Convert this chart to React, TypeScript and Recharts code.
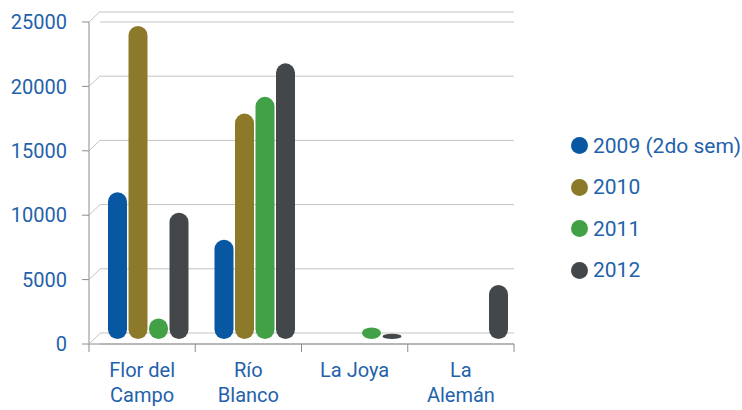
import { Bar, BarChart, CartesianGrid, Legend, XAxis, YAxis } from "recharts";

const categories = ["Flor del Campo", "Río Blanco", "La Joya", "La Alemán"];
const categoryLines = [["Flor del", "Campo"], ["Río", "Blanco"], ["La Joya"], ["La", "Alemán"]];

const values2009 = [11400, 7700, 0, 0];
const values2010 = [24300, 17500, 0, 0];
const values2011 = [1600, 18800, 900, 0];
const values2012 = [9800, 21400, 400, 4200];

const seriesKeys = ["y2009", "y2010", "y2011", "y2012"];
const seriesNames = ["2009 (2do sem)", "2010", "2011", "2012"];
const seriesColors = ["#0757a3", "#8c7a2a", "#42a047", "#43474a"];

const yTicks = [0, 5000, 10000, 15000, 20000, 25000];

const TEXT = "#1f62ab";
const AXIS = "#8c8c8c";
const GRID = "#c4c4c4";
const FONT = "Roboto, sans-serif";

const CHART_W = 742;
const CHART_H = 410;
const MARGIN = { top: 22, right: 228, bottom: 0, left: 0 };
const Y_AXIS_W = 89;
const PLOT_W = CHART_W - MARGIN.left - MARGIN.right - Y_AXIS_W;
const BAND = PLOT_W / categories.length;

const data = categories.map((name, i) => ({
  name,
  y2009: values2009[i],
  y2010: values2010[i],
  y2011: values2011[i],
  y2012: values2012[i],
}));

function Pill(props: any) {
  const { x, y, width, height, fill } = props;
  if (!height || height <= 0) return null;
  const r = width / 2;
  return <rect x={x} y={y} width={width} height={height} rx={r} ry={Math.min(r, height / 2)} fill={fill} />;
}

function FrontTick({ x, y, payload }: any) {
  return (
    <g>
      <text x={x} y={y} dy="0.36em" textAnchor="end" fill={TEXT} fontSize={20} fontFamily={FONT}>
        {payload.value}
      </text>
      <line x1={x + 22} y1={y} x2={x + 33} y2={y - 10.5} stroke={GRID} />
    </g>
  );
}

function CategoryTick({ x, y, payload, index }: any) {
  const i = categories.indexOf(payload.value);
  const lines = categoryLines[i] || [payload.value];
  const left = x - BAND / 2;
  const right = x + BAND / 2;
  return (
    <g>
      <line x1={left} y1={y} x2={left} y2={y + 8} stroke={AXIS} />
      {i === categories.length - 1 && <line x1={right} y1={y} x2={right} y2={y + 8} stroke={AXIS} />}
      <text x={x} y={y} textAnchor="middle" fill={TEXT} fontSize={20} fontFamily={FONT}>
        {lines.map((line, k) => (
          <tspan key={k} x={x} y={y + 33 + k * 25}>
            {line}
          </tspan>
        ))}
      </text>
    </g>
  );
}

function LegendList({ payload }: any) {
  return (
    <div style={{ fontFamily: FONT }}>
      {(payload || []).map((item: any) => (
        <div key={item.value} style={{ height: 41.5, display: "flex", alignItems: "center" }}>
          <span
            style={{ width: 17, height: 17, borderRadius: "50%", background: item.color, marginRight: 5, flex: "none" }}
          />
          <span style={{ color: TEXT, fontSize: 21, whiteSpace: "nowrap" }}>{item.value}</span>
        </div>
      ))}
    </div>
  );
}

export default function App() {
  return (
    <div style={{ position: "absolute", left: 0, top: 0, background: "#fff" }}>
      <BarChart width={CHART_W} height={CHART_H} data={data} margin={MARGIN} barSize={19} barGap={1.5}>
        <XAxis xAxisId="bars" dataKey="name" hide height={0} padding={{ left: 6, right: -7 }} />
        <XAxis
          xAxisId="labels"
          dataKey="name"
          height={66}
          stroke={AXIS}
          tickLine={false}
          tickSize={0}
          tickMargin={0}
          interval={0}
          tick={<CategoryTick />}
        />
        <YAxis
          yAxisId="front"
          width={Y_AXIS_W}
          domain={[0, 25000]}
          allowDataOverflow
          ticks={yTicks}
          stroke={AXIS}
          tickSize={7}
          tickMargin={15}
          tick={<FrontTick />}
        />
        <YAxis
          yAxisId="bars"
          hide
          width={0}
          domain={[0, 25000]}
          allowDataOverflow
          padding={{ top: -5, bottom: 5 }}
        />
        <YAxis
          yAxisId="back"
          hide
          width={0}
          domain={[0, 25000]}
          allowDataOverflow
          ticks={yTicks}
          padding={{ top: -10, bottom: 11 }}
        />
        <CartesianGrid xAxisId="labels" yAxisId="back" vertical={false} stroke={GRID} x={100} width={414} />
        {seriesKeys.map((key, i) => (
          <Bar
            key={key}
            dataKey={key}
            name={seriesNames[i]}
            fill={seriesColors[i]}
            xAxisId="bars"
            yAxisId="bars"
            shape={<Pill />}
            isAnimationActive={false}
          />
        ))}
        <Legend
          layout="vertical"
          align="center"
          verticalAlign="middle"
          content={<LegendList />}
          wrapperStyle={{ left: 571, top: 125, width: 171 }}
        />
      </BarChart>
    </div>
  );
}
